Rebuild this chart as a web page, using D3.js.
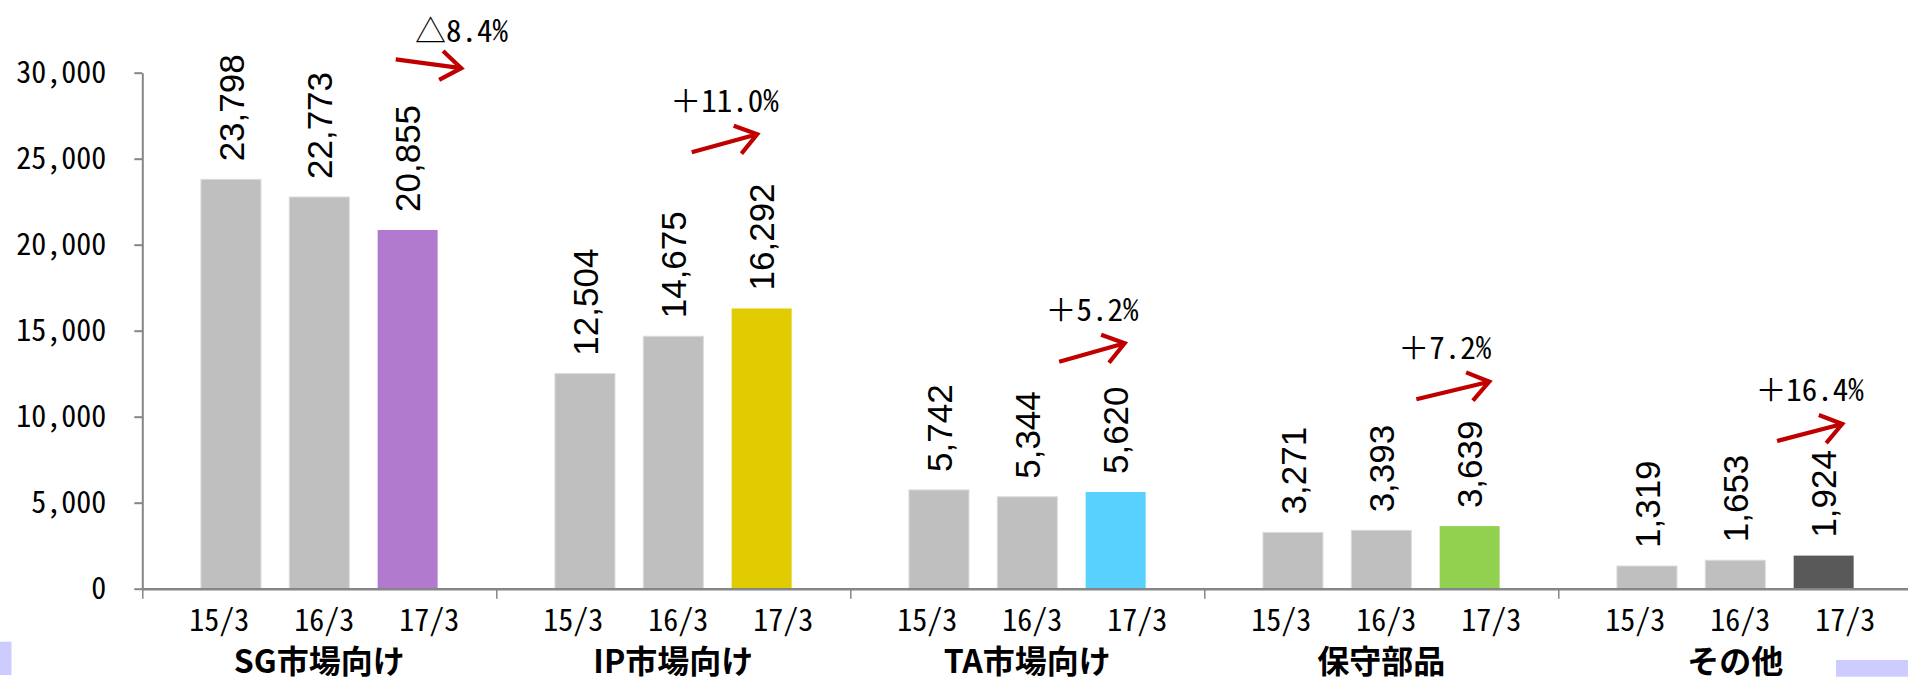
<!DOCTYPE html>
<html>
<head>
<meta charset="utf-8">
<script src="https://cdn.jsdelivr.net/npm/d3@7"></script>
<style>
  html, body { margin: 0; padding: 0; background: #ffffff; }
  svg { display: block; }
</style>
</head>
<body>
<svg id="chart" width="1908" height="684"></svg>
<script>
// ---------- data ----------
const categories = ["SG市場向け", "IP市場向け", "TA市場向け", "保守部品", "その他"];
const periods = ["15/3", "16/3", "17/3"];
const values15 = [23798, 12504, 5742, 3271, 1319];
const values16 = [22773, 14675, 5344, 3393, 1653];
const values17 = [20855, 16292, 5620, 3639, 1924];
const latestColors = ["#B27ACF", "#E0CC00", "#59D1FF", "#92D050", "#595959"];
const growthLabels = ["△8.4%", "＋11.0%", "＋5.2%", "＋7.2%", "＋16.4%"];
const yTickValues = [0, 5000, 10000, 15000, 20000, 25000, 30000];
// annotation arrows (value units for height, fraction of group width for x)
const arrowFromValue = [30779, 25372, 13198, 11012, 8587];
const arrowToValue   = [30262, 26419, 14267, 12035, 9576];
const arrowFromFrac  = [0.716, 0.552, 0.590, 0.599, 0.618];
const arrowToFrac    = [0.901, 0.737, 0.775, 0.805, 0.802];

// ---------- layout ----------
const svg = d3.select("#chart");
const left = 142.3, groupW = 354;
const yZero = 588.7, yTop = 72.7;

const monoFont = "'Noto Sans Mono CJK JP', 'Liberation Sans Narrow', 'DejaVu Sans Condensed', sans-serif";
const cjkBold = "'Noto Sans CJK JP', sans-serif";
const valueFont = "'Liberation Sans', Arial, sans-serif";

const x0 = d3.scaleBand().domain(categories).range([left, left + groupW * categories.length]).paddingInner(0).paddingOuter(0);
const x1 = d3.scaleBand().domain(periods).range([0, groupW]).paddingInner(0.321).paddingOuter(0.664);
const xLab = d3.scalePoint().domain(periods).range([77, 287]);
const y = d3.scaleLinear().domain([0, 30000]).range([yZero, yTop]);

const series = [values15, values16, values17];
const rows = [];
categories.forEach((c, i) => {
  periods.forEach((p, j) => {
    rows.push({cat: c, ci: i, period: p, pj: j, value: series[j][i],
               color: j === 2 ? latestColors[i] : "#BFBFBF"});
  });
});

// decorative slide rectangles
svg.append("rect").attr("x", 0).attr("y", 641.7).attr("width", 11.5).attr("height", 33.3).attr("fill", "#CCCCFF");
svg.append("rect").attr("x", 1836).attr("y", 660).attr("width", 72).attr("height", 16.7).attr("fill", "#CCCCFF");

// bars
const g = svg.append("g");
g.selectAll("rect.bar").data(rows).enter().append("rect")
  .attr("class", "bar")
  .attr("x", d => x0(d.cat) + x1(d.period))
  .attr("y", d => y(d.value))
  .attr("width", x1.bandwidth())
  .attr("height", d => y(0) - y(d.value))
  .attr("fill", d => d.color)
  .attr("stroke", d => d.pj === 2 ? "none" : "#DADADA")
  .attr("stroke-width", 1);

// value labels (rotated)
g.selectAll("text.val").data(rows).enter().append("text")
  .attr("class", "val")
  .attr("transform", d => `translate(${x0(d.cat) + x1(d.period) + x1.bandwidth() / 2},${y(d.value) - 18}) rotate(-90)`)
  .attr("dy", "0.36em")
  .attr("text-anchor", "start")
  .attr("font-family", valueFont)
  .attr("font-size", 35)
  .attr("fill", "#000")
  .text(d => d3.format(",")(d.value));

// y axis
const yAxis = svg.append("g")
  .attr("transform", `translate(${left},0)`)
  .call(d3.axisLeft(y).tickValues(yTickValues).tickSize(8).tickSizeOuter(0).tickPadding(28).tickFormat(d3.format(",")));
yAxis.select(".domain").attr("stroke", "#868686").attr("stroke-width", 2);
yAxis.selectAll(".tick line").attr("stroke", "#868686").attr("stroke-width", 2);
yAxis.selectAll(".tick text").attr("font-family", monoFont).attr("font-size", 30).attr("fill", "#000");

// x axis (group separators)
const sepScale = d3.scaleLinear().domain([0, categories.length]).range([left, left + groupW * categories.length]);
const xAxis = svg.append("g")
  .attr("transform", `translate(0,${yZero})`)
  .call(d3.axisBottom(sepScale).ticks(categories.length).tickSize(10).tickSizeOuter(0).tickFormat(""));
xAxis.select(".domain").attr("stroke", "#868686").attr("stroke-width", 2.5);
xAxis.selectAll(".tick line").attr("stroke", "#868686").attr("stroke-width", 1.5);

// period labels
g.selectAll("text.per").data(rows).enter().append("text")
  .attr("class", "per")
  .attr("x", d => x0(d.cat) + xLab(d.period))
  .attr("y", 631)
  .attr("text-anchor", "middle")
  .attr("font-family", monoFont)
  .attr("font-size", 30)
  .attr("fill", "#000")
  .text(d => d.period);

// category labels
g.selectAll("text.cat").data(categories).enter().append("text")
  .attr("class", "cat")
  .attr("x", d => x0(d) + groupW / 2)
  .attr("y", 673)
  .attr("text-anchor", "middle")
  .attr("font-family", cjkBold)
  .attr("font-weight", "bold")
  .attr("font-size", 32)
  .attr("fill", "#000")
  .text(d => d);

// growth arrows
const red = "#C00000";
categories.forEach((c, i) => {
  const xa = x0(c) + groupW * arrowFromFrac[i], ya = y(arrowFromValue[i]);
  const xb = x0(c) + groupW * arrowToFrac[i], yb = y(arrowToValue[i]);
  const ang = Math.atan2(yb - ya, xb - xa);
  const L = 25, spread = 0.62;
  const h1 = [xb - L * Math.cos(ang - spread), yb - L * Math.sin(ang - spread)];
  const h2 = [xb - L * Math.cos(ang + spread), yb - L * Math.sin(ang + spread)];
  svg.append("path")
    .attr("d", `M${xa},${ya}L${xb},${yb}M${h1[0]},${h1[1]}L${xb},${yb}L${h2[0]},${h2[1]}`)
    .attr("fill", "none").attr("stroke", red).attr("stroke-width", 4.2)
    .attr("stroke-linejoin", "miter").attr("stroke-linecap", "butt");
  const topY = Math.min(ya, yb);
  const dx = i === 0 ? 33 : (i === 3 ? -8 : 0);
  const gap = i === 0 ? 17.5 : 22.5;
  svg.append("text")
    .attr("x", (xa + xb) / 2 + dx)
    .attr("y", topY - gap)
    .attr("text-anchor", "middle")
    .attr("font-family", monoFont)
    .attr("font-size", 31)
    .attr("fill", "#000")
    .text(growthLabels[i]);
});
</script>
</body>
</html>
